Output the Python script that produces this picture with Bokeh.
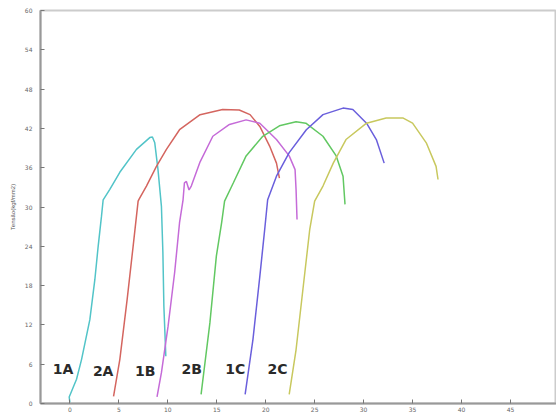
from bokeh.plotting import figure
from bokeh.models import FixedTicker, Range1d, Label
from bokeh.embed import file_html
from bokeh.resources import INLINE

# Strain (x) vs stress (y) curves
x_1A = [0.0, -0.07, 0.68, 1.19, 2.04, 2.55, 2.89, 3.23, 3.4, 4.08, 5.1, 6.8, 8.16, 8.43, 8.67, 9.0, 9.35, 9.5, 9.6, 9.8]
y_1A = [0.15, 1.0, 3.7, 6.7, 12.8, 18.9, 24.0, 28.6, 31.1, 32.7, 35.3, 38.8, 40.6, 40.7, 39.8, 35.7, 30.1, 23.0, 14.9, 7.2]

x_2A = [4.46, 5.1, 5.85, 6.46, 6.97, 7.07, 7.82, 8.84, 9.86, 11.2, 13.3, 15.6, 17.3, 18.4, 19.4, 20.4, 21.1, 21.4]
y_2A = [1.1, 6.7, 15.9, 24.0, 30.9, 31.2, 33.2, 36.2, 38.8, 41.8, 44.1, 44.9, 44.8, 44.1, 42.3, 39.3, 36.7, 34.4]

x_1B = [8.9, 9.35, 10.03, 10.7, 11.2, 11.56, 11.7, 11.9, 12.17, 12.4, 13.3, 14.6, 16.3, 18.0, 19.4, 21.1, 22.4, 23.0, 23.1, 23.2]
y_1B = [1.0, 4.7, 11.8, 20.0, 27.6, 31.1, 33.7, 33.9, 32.6, 33.2, 36.9, 40.8, 42.6, 43.3, 42.8, 40.3, 37.8, 35.7, 32.7, 28.1]

x_2B = [13.4, 14.3, 14.96, 15.5, 15.8, 16.7, 18.0, 19.7, 21.4, 23.1, 24.1, 25.85, 27.2, 27.9, 28.1]
y_2B = [1.4, 12.3, 22.5, 27.6, 30.9, 33.7, 37.8, 40.8, 42.4, 43.0, 42.8, 40.8, 37.8, 34.7, 30.4]

x_1C = [17.9, 18.7, 19.4, 19.9, 20.2, 21.1, 22.4, 24.15, 25.85, 27.9, 28.9, 30.3, 31.3, 32.1]
y_1C = [1.4, 9.8, 19.4, 26.6, 31.1, 34.7, 38.3, 41.8, 44.1, 45.1, 44.9, 42.8, 40.3, 36.7]

x_2C = [22.4, 23.1, 23.8, 24.5, 25.0, 25.85, 26.9, 28.2, 30.3, 32.3, 34.0, 35.0, 36.4, 37.4, 37.6]
y_2C = [1.4, 8.2, 17.4, 26.6, 30.9, 33.2, 36.7, 40.3, 42.8, 43.6, 43.6, 42.8, 39.8, 36.2, 34.2]

series_names = ["1A", "2A", "1B", "2B", "1C", "2C"]
series_x = [x_1A, x_2A, x_1B, x_2B, x_1C, x_2C]
series_y = [y_1A, y_2A, y_1B, y_2B, y_1C, y_2C]
colors = ["#52c4c8", "#d4655f", "#c56bd8", "#62c862", "#6a5fdc", "#c8c85e"]

label_x = [-0.7, 3.4, 7.7, 12.45, 16.9, 21.2]
label_y = [5.2, 4.9, 4.9, 5.2, 5.2, 5.2]

x_ticks = [0, 5, 10, 15, 20, 25, 30, 35, 40, 45, 50]
y_ticks = [0, 6, 12, 18, 24, 30, 36, 42, 48, 54, 60]

p = figure(width=556, height=416, output_backend="svg", toolbar_location=None,
           x_range=Range1d(-3, 49.7), y_range=Range1d(0, 60),
           min_border_left=40, min_border_right=0, min_border_top=10, min_border_bottom=13)

p.xgrid.visible = False
p.ygrid.visible = False
p.outline_line_color = "#cccccc"
p.outline_line_width = 2

for ax in (p.xaxis[0], p.yaxis[0]):
    ax.axis_line_color = "#999999"
    ax.axis_line_width = 2
    ax.major_tick_in = 4
    ax.major_tick_out = 0
    ax.major_tick_line_color = "#777777"
    ax.minor_tick_line_color = None
    ax.major_label_text_font_size = "6px"
    ax.major_label_text_color = "#666666"
    ax.major_label_text_font = "DejaVu Sans"

p.xaxis.ticker = FixedTicker(ticks=x_ticks)
p.yaxis.ticker = FixedTicker(ticks=y_ticks)
p.xaxis.major_label_standoff = 3
p.yaxis.major_label_standoff = 8
p.yaxis.axis_label = "Tensão(kgf/mm2)"
p.yaxis.axis_label_text_font_size = "6px"
p.yaxis.axis_label_text_font_style = "normal"
p.yaxis.axis_label_text_color = "#555555"
p.yaxis.axis_label_standoff = 6

for xs, ys, c in zip(series_x, series_y, colors):
    p.line(xs, ys, line_color=c, line_width=1.5)

for name, lx, ly in zip(series_names, label_x, label_y):
    p.add_layout(Label(x=lx, y=ly, text=name, text_font="DejaVu Sans",
                       text_font_style="bold", text_font_size="14px",
                       text_color="#2a2a2a", text_align="center",
                       text_baseline="middle"))

open("out.html", "w").write(file_html(p, INLINE))
